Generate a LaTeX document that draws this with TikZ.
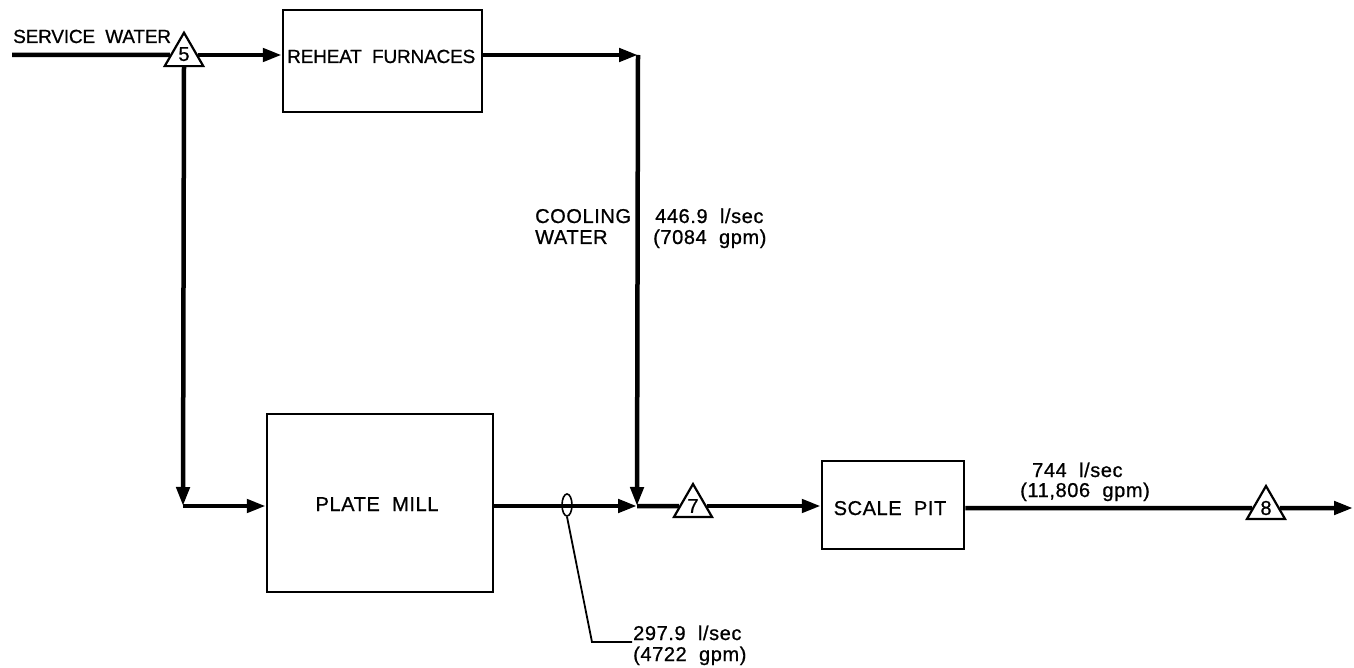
\documentclass[tikz,border=0pt]{standalone}
\usepackage{fontspec}
\setmainfont{Liberation Sans}[LetterSpace=3,WordSpace=2,FakeBold=0.8]
\newfontfamily\narrowfont{Liberation Sans}[LetterSpace=-1,WordSpace=2,FakeBold=0.8]
\usetikzlibrary{arrows.meta,shapes.geometric}
\begin{document}
\begin{tikzpicture}[x=1pt,y=-1pt,
  flow/.style={line width=4.5pt},
  arr/.style={-{Triangle[length=19pt,width=13pt]}},
  box/.style={draw,line width=2.5pt,inner sep=0pt},
  tri/.style={draw,fill=white,regular polygon,regular polygon sides=3,minimum size=44pt,inner sep=0pt,line width=2.2pt,font=\fontsize{20}{24}\selectfont},
  lbl/.style={inner sep=0pt,anchor=base west,font=\fontsize{20}{24}\selectfont},
  nlbl/.style={lbl,font=\fontsize{19}{24}\selectfont\narrowfont},
  leader/.style={line width=1.8pt}]
\useasboundingbox (0,0) rectangle (1354,668);

% boxes
\node[box,minimum width=199pt,minimum height=102pt] (rh) at (382.5,61) {};
\node[box,minimum width=226pt,minimum height=178pt] (pm) at (380,503) {};
\node[box,minimum width=142pt,minimum height=88pt] (sp) at (893,505) {};

% box texts
\node[nlbl] (rht) at (287,63) {REHEAT FURNACES};
\node[lbl,anchor=base] (pmt) at (377,511) {PLATE MILL};
\node[lbl,anchor=base] (spt) at (890,515) {SCALE PIT};

% triangles
\node[tri] (t5) at (184,55) {\raisebox{2pt}{5}};
\node[tri] (t7) at (693,506) {7};
\node[tri] (t8) at (1266,508) {8};

% free coordinates
\coordinate (sw) at (12,55);
\coordinate (c1) at (183,506);
\coordinate (c2) at (638,55);
\coordinate (c3) at (637,506);
\coordinate (out) at (1353,508);
\coordinate (ld) at (592,642);
\coordinate (ld2) at (632,642);

% connectors
\draw[flow] (sw) -- (t5.west);
\draw[flow,arr] (t5.east) -- (t5.east -| rh.west);
\draw[flow,arr] (rh.east |- t5) -- (c2);
\draw[flow,arr] (c2) -- (c3);
\draw[flow,arr] (t5.south) -- (c1);
\draw[flow,arr] (c1) -- (c1 -| pm.west);
\draw[flow,arr] (pm.east |- c3) -- (c3);
\draw[flow] (c3) -- (t7.west);
\draw[flow,arr] (t7.east) -- (t7.east -| sp.west);
\draw[flow] (sp.east |- t8) -- (t8.west);
\draw[flow,arr] (t8.east) -- (out);

% ellipse marker and leader
\node[draw,ellipse,line width=1.6pt,minimum width=10pt,minimum height=22pt,inner sep=0pt] (el) at (567,505) {};
\draw[leader] (el.south) -- (ld) -- (ld2);

% labels
\node[nlbl] (swt) at (13,43) {SERVICE WATER};
\node[lbl] (cw1) at (535,223) {COOLING};
\node[lbl] (cw2) at (535,244) {WATER};
\node[lbl] (q1a) at (655,223) {446.9 l/sec};
\node[lbl] (q1b) at (653,244) {(7084 gpm)};
\node[lbl] (q2a) at (633,640) {297.9 l/sec};
\node[lbl] (q2b) at (633,661) {(4722 gpm)};
\node[lbl] (q3a) at (1032,477) {744 l/sec};
\node[lbl] (q3b) at (1020,497) {(11,806 gpm)};
\end{tikzpicture}
\end{document}
